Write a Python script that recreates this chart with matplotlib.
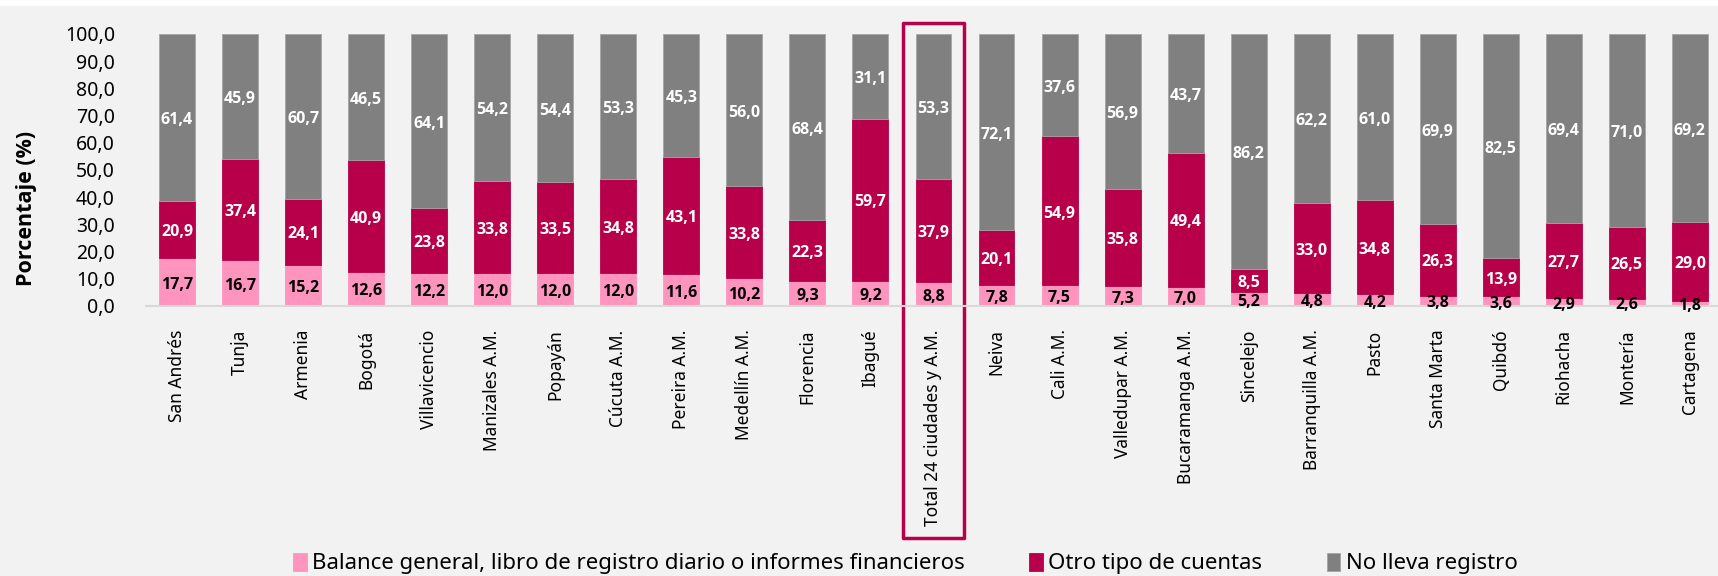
import matplotlib
matplotlib.use("Agg")
import matplotlib.pyplot as plt
import matplotlib.transforms as mtransforms
from matplotlib.patches import Rectangle
import numpy as np

plt.rcParams['font.family'] = ['Noto Sans', 'DejaVu Sans']
negrita = ['Open Sans', 'DejaVu Sans']

ciudades = ['San Andrés', 'Tunja', 'Armenia', 'Bogotá', 'Villavicencio', 'Manizales A.M.',
            'Popayán', 'Cúcuta A.M.', 'Pereira A.M.', 'Medellín A.M.', 'Florencia', 'Ibagué',
            'Total 24 ciudades y A.M.', 'Neiva', 'Cali A.M.', 'Valledupar A.M.', 'Bucaramanga A.M.',
            'Sincelejo', 'Barranquilla A.M.', 'Pasto', 'Santa Marta', 'Quibdó', 'Riohacha',
            'Montería', 'Cartagena']

balance = [17.7, 16.7, 15.2, 12.6, 12.2, 12.0, 12.0, 12.0, 11.6, 10.2, 9.3, 9.2, 8.8,
           7.8, 7.5, 7.3, 7.0, 5.2, 4.8, 4.2, 3.8, 3.6, 2.9, 2.6, 1.8]
otro_tipo = [20.9, 37.4, 24.1, 40.9, 23.8, 33.8, 33.5, 34.8, 43.1, 33.8, 22.3, 59.7, 37.9,
             20.1, 54.9, 35.8, 49.4, 8.5, 33.0, 34.8, 26.3, 13.9, 27.7, 26.5, 29.0]
no_registro = [61.4, 45.9, 60.7, 46.5, 64.1, 54.2, 54.4, 53.3, 45.3, 56.0, 68.4, 31.1, 53.3,
               72.1, 37.6, 56.9, 43.7, 86.2, 62.2, 61.0, 69.9, 82.5, 69.4, 71.0, 69.2]

series = [
    ('Balance general, libro de registro diario o informes financieros', balance, '#FF95BF', 'black'),
    ('Otro tipo de cuentas', otro_tipo, '#B8004A', 'white'),
    ('No lleva registro', no_registro, '#808080', 'white'),
]

fondo = '#F2F2F2'
fig = plt.figure(figsize=(17.18, 5.76), dpi=100, facecolor=fondo)
ax = fig.add_axes([0.0847, 0.469, 0.9173, 0.472])
ax.set_facecolor(fondo)

x = np.arange(len(ciudades))
base = np.zeros(len(ciudades))
for nombre, valores, color, color_txt in series:
    valores = np.array(valores)
    ax.bar(x, valores, 0.57, bottom=base, color=color, label=nombre,
           edgecolor='#a6a6a6' if color == '#808080' else color, linewidth=0.6)
    for xi, b, v in zip(x, base, valores):
        ax.text(xi, b + v / 2 - 1.0, f'{v:.1f}'.replace('.', ','), ha='center', va='center',
                fontsize=11.5, fontweight='bold', family=negrita, color=color_txt)
    base = base + valores

ax.set_xlim(-0.5, len(ciudades) - 0.5)
ax.set_ylim(0, 100)
ax.set_yticks(np.arange(0, 101, 10))
ax.set_yticklabels([f'{v:.1f}'.replace('.', ',') for v in np.arange(0, 101, 10)], fontsize=14)
ax.set_xticks(x)
ax.set_xticklabels(ciudades, rotation=90, fontsize=12.5)
ax.tick_params(axis='y', length=0, pad=22)
ax.tick_params(axis='x', length=0, pad=17)
for lado in ['top', 'right', 'left']:
    ax.spines[lado].set_visible(False)
ax.spines['bottom'].set_color('#d9d9d9')
ax.spines['bottom'].set_linewidth(1.5)

ax.set_ylabel('Porcentaje (%)', fontsize=15.5, fontweight='bold', family=negrita)
ax.yaxis.set_label_coords(-0.069, 0.36)

# recuadro que destaca el total nacional
trans = mtransforms.blended_transform_factory(ax.transData, ax.transAxes)
idx_total = ciudades.index('Total 24 ciudades y A.M.')
ax.add_patch(Rectangle((idx_total - 0.48, -0.853), 0.96, 1.893, transform=trans,
                       fill=False, edgecolor='#B8004A', linewidth=2.5, clip_on=False,
                       joinstyle='round'))

fig.legend(loc='lower center', bbox_to_anchor=(0.527, -0.032), ncol=3, frameon=False,
           fontsize=16, handlelength=0.6, handleheight=0.9, handletextpad=0.25,
           columnspacing=2.9)

# franja blanca superior
fig.patches.append(Rectangle((0, 0.991), 1, 0.009, transform=fig.transFigure,
                             color='white', zorder=-1))

fig.savefig('out.png', dpi=100, facecolor=fondo)
